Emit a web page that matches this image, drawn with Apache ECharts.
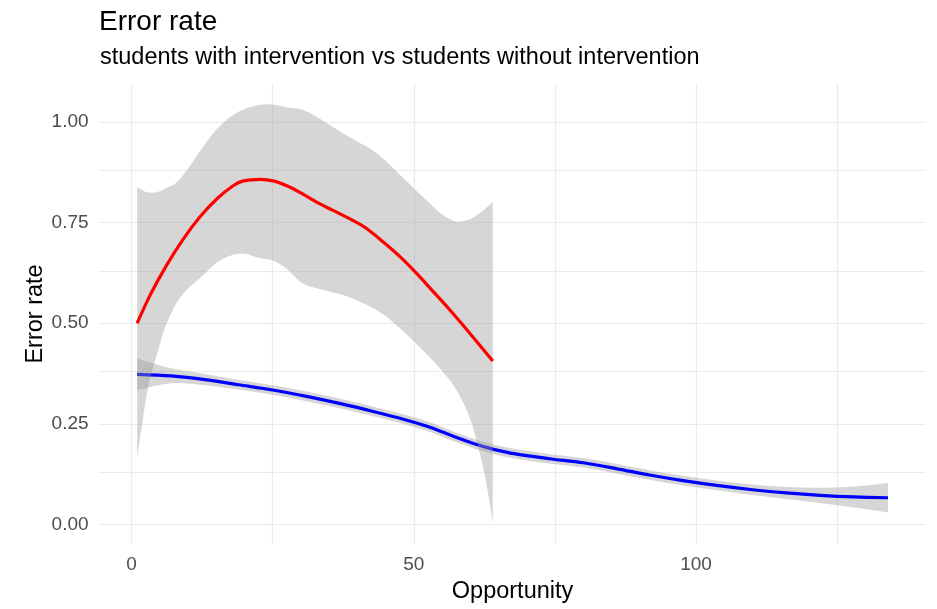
<!DOCTYPE html>
<html>
<head>
<meta charset="utf-8">
<script src="https://cdn.jsdelivr.net/npm/echarts@6/dist/echarts.min.js"></script>
<style>
  html, body { margin: 0; padding: 0; background: #ffffff; }
  #chart { width: 937px; height: 609px; }
</style>
</head>
<body>
<div id="chart"></div>
<script>
// Smoothed error rate by opportunity, with 95% confidence bands
const titleText = 'Error rate';
const subtitleText = 'students with intervention vs students without intervention';
const xTitle = 'Opportunity';
const yTitle = 'Error rate';

// Tick / grid positions
const xMajorTicks = [0, 50, 100];
const xMinorTicks = [25, 75, 125];
const yMajorTicks = [0, 0.25, 0.5, 0.75, 1.0];
const yMinorTicks = [0.125, 0.375, 0.625, 0.875];

// Students with intervention (red): fitted curve
const redX = [1, 3.3, 6.2, 9.2, 12.1, 15.1, 18, 19.8, 22.8, 25.1, 27.5, 29.9, 32.8, 35.8, 39.3, 41.7, 44.6, 47.6, 50.5, 53.5, 56.4, 59.4, 64];
const redY = [0.500, 0.570, 0.644, 0.710, 0.764, 0.809, 0.842, 0.854, 0.858, 0.854, 0.842, 0.825, 0.801, 0.780, 0.755, 0.735, 0.702, 0.665, 0.624, 0.578, 0.533, 0.484, 0.406];

// Students with intervention: confidence band
const redBandX = [1, 2, 3, 4.5, 6, 8, 10, 12.5, 15, 17.5, 20, 22.5, 25, 27.5, 30, 32.5, 35, 37.5, 40, 42.5, 45, 47.5, 50, 52.5, 55, 57.5, 60, 62, 63, 64];
const redLo = [0.163, 0.260, 0.345, 0.422, 0.491, 0.551, 0.586, 0.617, 0.650, 0.668, 0.673, 0.663, 0.656, 0.635, 0.602, 0.588, 0.579, 0.570, 0.556, 0.540, 0.518, 0.488, 0.455, 0.420, 0.382, 0.335, 0.262, 0.160, 0.090, 0.005];
const redHi = [0.838, 0.830, 0.825, 0.826, 0.835, 0.850, 0.884, 0.935, 0.981, 1.013, 1.033, 1.043, 1.044, 1.037, 1.032, 1.016, 0.994, 0.972, 0.952, 0.932, 0.904, 0.870, 0.836, 0.803, 0.771, 0.753, 0.759, 0.777, 0.789, 0.801];

// Students without intervention (blue): fitted curve and band
const blueX = [1, 7, 13, 19, 25, 31, 37, 43, 48, 53, 57, 61, 64, 68, 74, 80, 86, 92, 98, 104, 110, 116, 122, 128, 134];
const blueY = [0.373, 0.369, 0.360, 0.347, 0.334, 0.318, 0.300, 0.280, 0.262, 0.241, 0.219, 0.199, 0.187, 0.175, 0.163, 0.153, 0.138, 0.122, 0.108, 0.096, 0.086, 0.078, 0.072, 0.068, 0.066];
const blueLo = [0.334, 0.351, 0.346, 0.335, 0.322, 0.306, 0.288, 0.268, 0.250, 0.229, 0.207, 0.187, 0.175, 0.163, 0.151, 0.141, 0.126, 0.110, 0.096, 0.084, 0.073, 0.063, 0.053, 0.042, 0.030];
const blueHi = [0.413, 0.388, 0.374, 0.359, 0.346, 0.330, 0.312, 0.292, 0.274, 0.253, 0.231, 0.211, 0.199, 0.187, 0.175, 0.165, 0.150, 0.134, 0.120, 0.108, 0.099, 0.093, 0.091, 0.094, 0.103];

const FONT = "'Liberation Sans', Arial, Helvetica, sans-serif";
const BAND_FILL = 'rgba(153,153,153,0.4)';
const GRID_COLOR = '#ebebeb';

const pairs = (xs, ys) => xs.map((x, i) => [x, ys[i]]);

// Catmull-Rom spline through pixel points, as SVG cubic segments
function splineSegments(pts) {
  let d = '';
  for (let i = 0; i < pts.length - 1; i++) {
    const p0 = pts[Math.max(i - 1, 0)];
    const p1 = pts[i];
    const p2 = pts[i + 1];
    const p3 = pts[Math.min(i + 2, pts.length - 1)];
    const c1x = p1[0] + (p2[0] - p0[0]) / 6, c1y = p1[1] + (p2[1] - p0[1]) / 6;
    const c2x = p2[0] - (p3[0] - p1[0]) / 6, c2y = p2[1] - (p3[1] - p1[1]) / 6;
    d += ' C' + c1x + ' ' + c1y + ' ' + c2x + ' ' + c2y + ' ' + p2[0] + ' ' + p2[1];
  }
  return d;
}

// Confidence band: upper edge left to right, lower edge back, straight ends
function bandSeries(name, xs, lo, hi, z) {
  return {
    name: name, type: 'custom', silent: true, z: z, clip: true,
    data: [[xs[0], lo[0]]],
    renderItem: function (params, api) {
      const upper = xs.map((x, i) => api.coord([x, hi[i]]));
      const lower = xs.map((x, i) => api.coord([x, lo[i]])).reverse();
      let d = 'M' + upper[0][0] + ' ' + upper[0][1] + splineSegments(upper);
      d += ' L' + lower[0][0] + ' ' + lower[0][1] + splineSegments(lower) + ' Z';
      return {
        type: 'path',
        shape: { pathData: d },
        style: { fill: BAND_FILL, stroke: null }
      };
    }
  };
}

function curveSeries(name, xs, ys, color, z) {
  return {
    name: name, type: 'line', smooth: 0.3, data: pairs(xs, ys),
    showSymbol: false, silent: true,
    lineStyle: { color: color, width: 3.2 }, z: z
  };
}

const gridLines = [].concat(
  xMajorTicks.map(v => ({ xAxis: v })),
  xMinorTicks.map(v => ({ xAxis: v })),
  yMajorTicks.map(v => ({ yAxis: v })),
  yMinorTicks.map(v => ({ yAxis: v }))
);

const chart = echarts.init(document.getElementById('chart'), null, { renderer: 'canvas' });

chart.setOption({
  animation: false,
  backgroundColor: '#ffffff',
  textStyle: { fontFamily: FONT },
  title: [
    { text: titleText, left: 99, top: 8, padding: 0,
      textStyle: { fontFamily: FONT, fontSize: 28, fontWeight: 'normal', color: '#000000' } },
    { text: subtitleText, left: 100, top: 46, padding: 0,
      textStyle: { fontFamily: FONT, fontSize: 23.5, fontWeight: 'normal', color: '#000000' } }
  ],
  grid: { left: 99.6, right: 11.5, top: 84, bottom: 61.4, containLabel: false },
  xAxis: {
    type: 'value', min: -5.65, max: 140.65,
    axisLine: { show: false }, axisTick: { show: false }, splitLine: { show: false },
    axisLabel: { customValues: xMajorTicks, margin: 11, fontSize: 19, color: '#4d4d4d', fontFamily: FONT },
    name: xTitle, nameLocation: 'middle', nameGap: 36, nameMoveOverlap: false,
    nameTextStyle: { fontSize: 23.5, color: '#000000', fontFamily: FONT }
  },
  yAxis: {
    type: 'value', min: -0.049, max: 1.095,
    axisLine: { show: false }, axisTick: { show: false }, splitLine: { show: false },
    axisLabel: { customValues: yMajorTicks, margin: 11, fontSize: 19, color: '#4d4d4d', fontFamily: FONT,
      formatter: v => v.toFixed(2) },
    name: yTitle, nameLocation: 'middle', nameGap: 52, nameRotate: 90, nameMoveOverlap: false,
    nameTextStyle: { fontSize: 23.5, color: '#000000', fontFamily: FONT }
  },
  series: [
    {
      name: 'grid', type: 'line', data: [], silent: true, z: 0,
      markLine: {
        silent: true, symbol: 'none', z: 0, animation: false,
        label: { show: false },
        lineStyle: { color: GRID_COLOR, width: 1.2, type: 'solid' },
        emphasis: { disabled: true },
        data: gridLines
      }
    },
    bandSeries('without-band', blueX, blueLo, blueHi, 2),
    curveSeries('without intervention', blueX, blueY, '#0000ff', 3),
    bandSeries('with-band', redBandX, redLo, redHi, 4),
    curveSeries('with intervention', redX, redY, '#ff0000', 5)
  ]
});
</script>
</body>
</html>
